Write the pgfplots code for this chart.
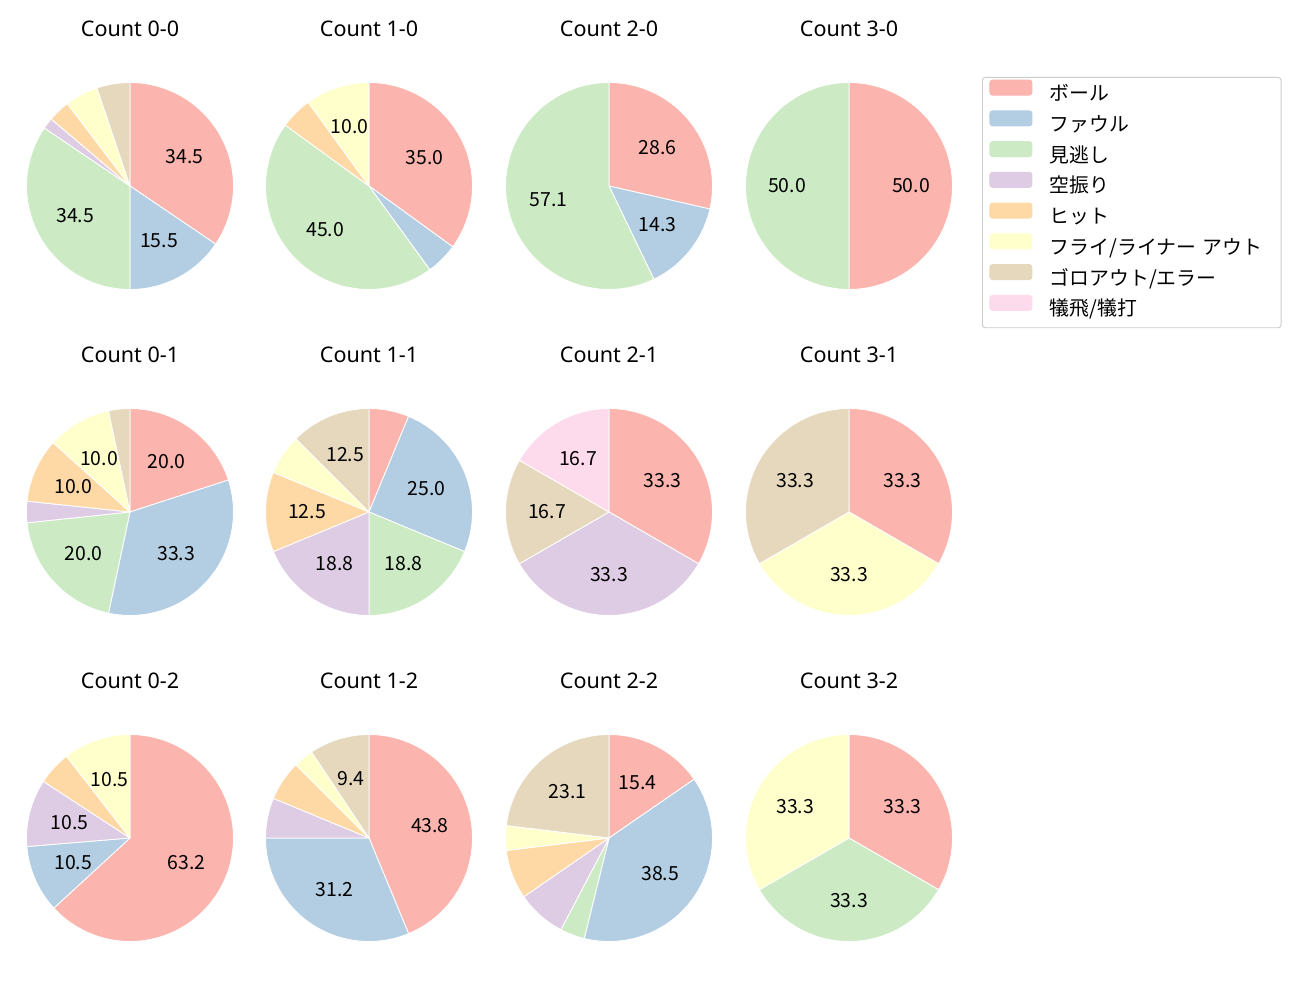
\documentclass[border=0pt]{standalone}
\usepackage{fontspec}
\setmainfont{Noto Sans CJK JP}
\newfontfamily\latinfont{Noto Sans}
\usepackage{pgfplots}
\pgfplotsset{compat=1.18}
\usepgfplotslibrary{polar}

\definecolor{pc1}{HTML}{FBB4AE}
\definecolor{pc2}{HTML}{B3CDE3}
\definecolor{pc3}{HTML}{CCEBC5}
\definecolor{pc4}{HTML}{DECBE4}
\definecolor{pc5}{HTML}{FED9A6}
\definecolor{pc6}{HTML}{FFFFCC}
\definecolor{pc7}{HTML}{E5D8BD}
\definecolor{pc8}{HTML}{FDDAEC}

\newcommand\chartfont{\fontsize{14bp}{17bp}\selectfont}
\newcommand\titlefont{\fontsize{15.5bp}{18bp}\selectfont}
\newcommand\legfont{\fontsize{14.3bp}{17bp}\selectfont}

\tikzset{
  pieslice/.style={draw=white, line width=0.6bp, line join=round, samples=90},
  pielabel/.style={font=\chartfont, anchor=center, inner sep=0pt},
  pietitle/.style={font=\latinfont\titlefont, anchor=base, inner sep=0pt},
}
\pgfplotsset{
  pie/.style={hide axis, scale only axis, width=149bp, height=149bp,
    xmin=0, xmax=360, ymin=0, ymax=1, clip=false, anchor=center},
}

% counts in the order: ball, foul, called strike, swinging strike, hit,
% fly/liner out, grounder/error, sacrifice
\newcommand\drawpie[1]{%
  \def\pietotal{0}%
  \pgfplotsforeachungrouped \pv in {#1}{\pgfmathsetmacro\pietotal{\pietotal+\pv}}%
  \def\piecum{0}\def\pieidx{0}%
  \pgfplotsforeachungrouped \pv in {#1}{%
    \pgfmathtruncatemacro\pieidx{\pieidx+1}%
    \pgfmathtruncatemacro\pienz{\pv>0}%
    \ifnum\pienz=1
      \pgfmathsetmacro\piefa{\piecum/\pietotal}%
      \pgfmathsetmacro\piefb{(\piecum+\pv)/\pietotal}%
      \pgfmathsetmacro\piesa{90-360*\piefa}%
      \pgfmathsetmacro\pieea{90-360*\piefb}%
      \pgfmathsetmacro\piema{(\piesa+\pieea)/2}%
      \edef\pietemp{\noexpand\addplot[pieslice, fill=pc\pieidx, domain=\pieea:\piesa] {1} -- (axis cs:0,0) -- cycle;}%
      \pietemp
      \pgfmathsetmacro\piepct{100*(\pv/\pietotal)}%
      \pgfmathtruncatemacro\pieshow{\piepct>=9}%
      \ifnum\pieshow=1
        \pgfmathsetmacro\piet{10*\piepct}%
        \pgfmathsetmacro\piefl{floor(\piet)}%
        \pgfmathsetmacro\pieodd{mod(\piefl,2)}%
        \pgfmathsetmacro\pier{abs(\piet-\piefl-0.5)<0.001 ? (\piefl+\pieodd) : round(\piet)}%
        \pgfmathsetmacro\pielab{\pier/10}%
        \edef\pietemp{\noexpand\node[pielabel] at (axis cs:\piema,0.6) {\noexpand\pgfmathprintnumber[fixed,fixed zerofill,precision=1,assume math mode=true]{\pielab}};}%
        \pietemp
      \fi
    \fi
    \pgfmathsetmacro\piecum{\piecum+\pv}%
  }%
}

\newcommand\legimg[1]{\addlegendimage{legend image code/.code={\fill[#1] (0bp,0.2bp) rectangle (30.24bp,11.0bp);}}}

\begin{document}
\begin{tikzpicture}
\useasboundingbox (0bp,0bp) rectangle (936bp,720bp);

% Row 1
\begin{polaraxis}[pie, at={(93.6bp,586.08bp)}]
\drawpie{20,9,20,1,2,3,3,0}
\node[pietitle] at (axis cs:90,1.449) {Count 0-0};
\end{polaraxis}
\begin{polaraxis}[pie, at={(265.68bp,586.08bp)}]
\drawpie{7,1,9,0,1,2,0,0}
\node[pietitle] at (axis cs:90,1.449) {Count 1-0};
\end{polaraxis}
\begin{polaraxis}[pie, at={(438.48bp,586.08bp)}]
\drawpie{2,1,4,0,0,0,0,0}
\node[pietitle] at (axis cs:90,1.449) {Count 2-0};
\end{polaraxis}
\begin{polaraxis}[pie, at={(611.28bp,586.08bp)}]
\drawpie{1,0,1,0,0,0,0,0}
\node[pietitle] at (axis cs:90,1.449) {Count 3-0};
\end{polaraxis}

% Row 2
\begin{polaraxis}[pie, at={(93.6bp,351.36bp)}]
\drawpie{6,10,6,1,3,3,1,0}
\node[pietitle] at (axis cs:90,1.449) {Count 0-1};
\end{polaraxis}
\begin{polaraxis}[pie, at={(265.68bp,351.36bp)}]
\drawpie{1,4,3,3,2,1,2,0}
\node[pietitle] at (axis cs:90,1.449) {Count 1-1};
\end{polaraxis}
\begin{polaraxis}[pie, at={(438.48bp,351.36bp)}]
\drawpie{2,0,0,2,0,0,1,1}
\node[pietitle] at (axis cs:90,1.449) {Count 2-1};
\end{polaraxis}
\begin{polaraxis}[pie, at={(611.28bp,351.36bp)}]
\drawpie{1,0,0,0,0,1,1,0}
\node[pietitle] at (axis cs:90,1.449) {Count 3-1};
\end{polaraxis}

% Row 3
\begin{polaraxis}[pie, at={(93.6bp,116.64bp)}]
\drawpie{12,2,0,2,1,2,0,0}
\node[pietitle] at (axis cs:90,1.449) {Count 0-2};
\end{polaraxis}
\begin{polaraxis}[pie, at={(265.68bp,116.64bp)}]
\drawpie{14,10,0,2,2,1,3,0}
\node[pietitle] at (axis cs:90,1.449) {Count 1-2};
\end{polaraxis}
\begin{polaraxis}[pie, at={(438.48bp,116.64bp)}]
\drawpie{4,10,1,2,2,1,6,0}
\node[pietitle] at (axis cs:90,1.449) {Count 2-2};
\end{polaraxis}
\begin{polaraxis}[pie, at={(611.28bp,116.64bp)}]
\drawpie{1,0,1,0,0,1,0,0}
\node[pietitle] at (axis cs:90,1.449) {Count 3-2};
\end{polaraxis}

% Legend
\begin{axis}[hide axis, scale only axis, width=216bp, height=180bp,
  at={(707.04bp,484.56bp)}, anchor=south west,
  xmin=0, xmax=1, ymin=0, ymax=1,
  legend cell align=left,
  legend style={at={(0,1)}, anchor=north west, draw=black!20, rounded corners=2bp,
    line width=0.7bp, inner xsep=5bp, inner ysep=1.5bp, row sep=0pt, column sep=12.5bp,
    font=\legfont,
    nodes={inner sep=0pt, text height=14.6bp, text depth=7bp, text width=161.5bp, align=left}}]
\legimg{pc1}\addlegendentry{ボール}
\legimg{pc2}\addlegendentry{ファウル}
\legimg{pc3}\addlegendentry{見逃し}
\legimg{pc4}\addlegendentry{空振り}
\legimg{pc5}\addlegendentry{ヒット}
\legimg{pc6}\addlegendentry{フライ/ライナー アウト}
\legimg{pc7}\addlegendentry{ゴロアウト/エラー}
\legimg{pc8}\addlegendentry{犠飛/犠打}
\end{axis}
\end{tikzpicture}
\end{document}
